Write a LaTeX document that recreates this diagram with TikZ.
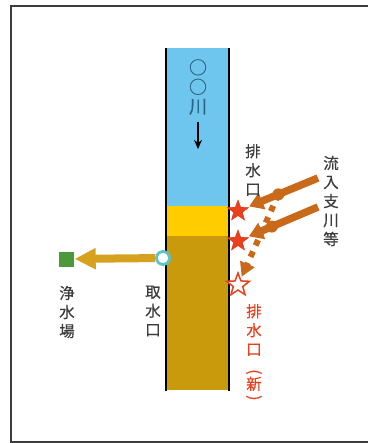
\documentclass[tikz,border=0pt]{standalone}
\usepackage{fontspec}
\newfontfamily\jpfont[FakeBold=0.4]{Noto Sans CJK JP}
\usetikzlibrary{arrows.meta,shapes.geometric}

\definecolor{riverblue}{HTML}{6EC6EE}
\definecolor{mixyellow}{HTML}{FFCC00}
\definecolor{zonebrown}{HTML}{C99A0C}
\definecolor{intakeochre}{HTML}{D6A21E}
\definecolor{inflowbrown}{HTML}{C96A1A}
\definecolor{outletred}{HTML}{E8401E}
\definecolor{labelgray}{HTML}{3C3C3C}
\definecolor{plantgreen}{HTML}{4A9A3A}
\definecolor{ringcyan}{HTML}{5CC2CC}
\definecolor{rivername}{HTML}{2A6585}

\tikzset{
  vlabel/.style={align=center, inner sep=0pt, text=labelgray,
    font=\jpfont\fontsize{15.5}{19}\selectfont},
  outlet/.style={star, star points=5, star point ratio=2.4, minimum size=23pt,
    inner sep=0pt, fill=outletred},
  inflow/.style={inflowbrown, line width=7.5pt,
    -{Triangle[width=17pt,length=14pt]}},
}

\begin{document}
\begin{tikzpicture}[x=1pt, y=-1pt]
  \useasboundingbox (0,0) rectangle (367,443);
  \draw[labelgray, line width=2pt] (368,6) -- (11,6) -- (11,442) -- (368,442);

  \fill[riverblue]  (166,48) rectangle (229,207);
  \fill[mixyellow]  (166,206) rectangle (229,237);
  \fill[zonebrown]  (166,236) rectangle (229,390);
  \draw[line width=2pt] (166,48) -- (166,391);
  \draw[line width=2pt] (229,48) -- (229,391);

  \node[align=center, inner sep=0pt, text=rivername,
    font=\jpfont\fontsize{18}{19.5}\selectfont] (rivertitle) at (198,87) {○\\○\\川};
  \coordinate (flowtop) at (198,122);
  \coordinate (flowbot) at (198,149);
  \draw[line width=1.8pt, -{Stealth[width=8pt,length=9pt]}] (flowtop) -- (flowbot);

  \node[fill=plantgreen, minimum size=15pt, inner sep=0pt] (plant) at (66,259) {};
  \node[circle, draw=ringcyan, line width=2.8pt, fill=white, minimum size=13pt,
    inner sep=0pt] (intake) at (163,258) {};
  \draw[intakeochre, line width=8pt, -{Triangle[width=20pt,length=21pt]},
    shorten >=1pt] (intake) -- (plant);
  \node[vlabel] (plantlabel) at (67,312) {浄\\水\\場};
  \node[vlabel] (intakelabel) at (153,311) {取\\水\\口};

  \node[outlet] (outA) at (238,211) {};
  \node[outlet] (outB) at (238,241) {};
  \node[outlet, fill=white, draw=outletred, line width=1.5pt, minimum size=24pt]
    (newout) at (238,285) {};
  \coordinate (srcA) at (318,178);
  \coordinate (srcB) at (318,207);
  \path (srcA) -- (outA) coordinate[pos=0.56] (junctA);
  \path (srcB) -- (outB) coordinate[pos=0.65] (junctB);

  \draw[inflowbrown, line width=6pt, dash pattern=on 6pt off 6.5pt,
    -{Triangle[width=15pt,length=14pt]}, shorten >=2pt] (junctA) -- (newout);
  \draw[inflow, shorten >=2pt] (srcA) -- (outA);
  \draw[inflow, shorten >=2pt] (srcB) -- (outB);
  \fill[inflowbrown] (junctA) circle (6pt);
  \fill[inflowbrown] (junctB) circle (6pt);
  \node[outlet] at (outA) {};
  \node[outlet] at (outB) {};

  \node[vlabel] (outletlabel) at (253,170) {排\\水\\口};
  \node[vlabel] (inflowlabel) at (331,201) {流\\入\\支\\川\\等};
  \node[vlabel, text=outletred] (newlabel) at (254,330) {排\\水\\口};
  \node[vlabel, text=outletred] (newmark) at (254,386)
    {\rotatebox[origin=c]{-90}{(}\\[-6pt]新\\[-6pt]\rotatebox[origin=c]{-90}{)}};
\end{tikzpicture}
\end{document}
